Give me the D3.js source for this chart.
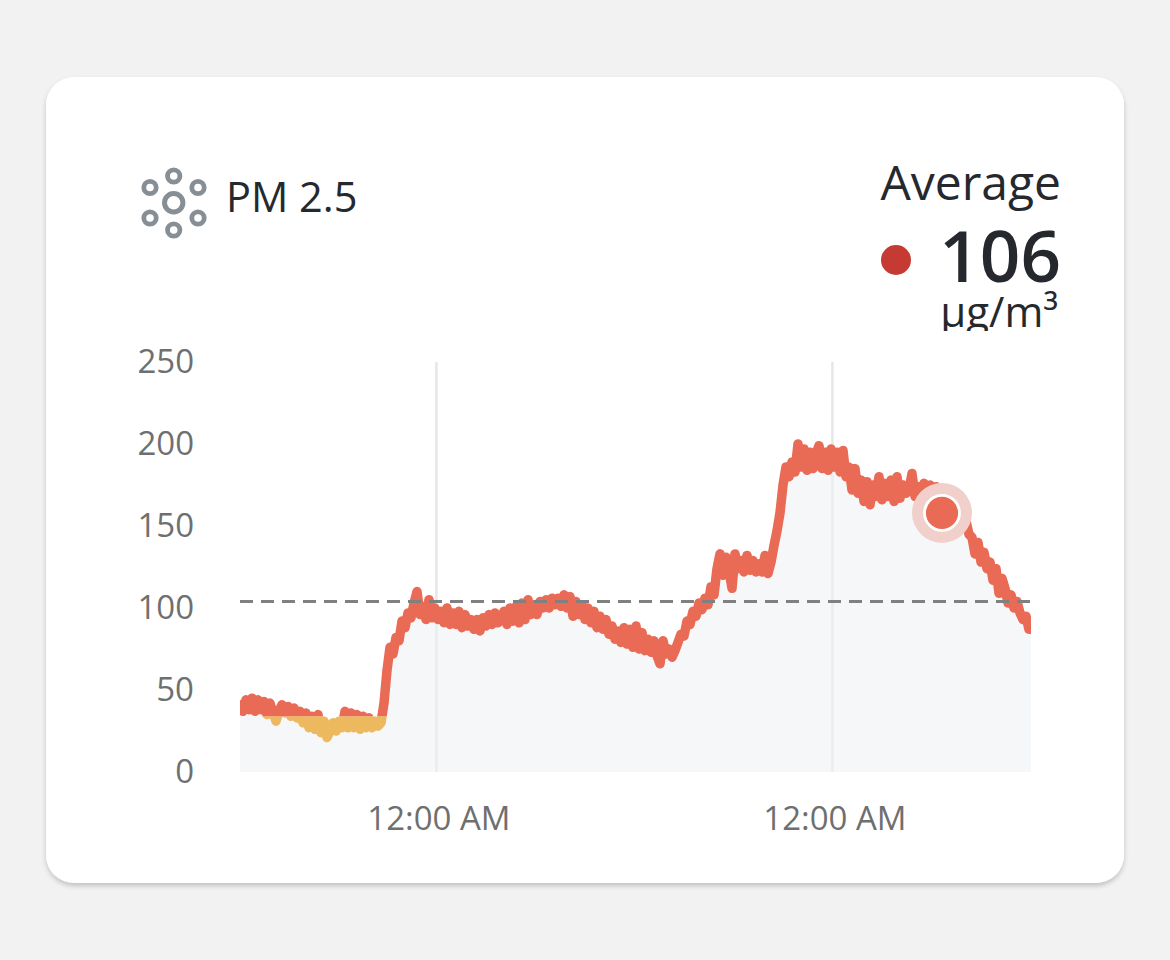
<!DOCTYPE html>
<html><head><meta charset="utf-8">
<script src="https://cdn.jsdelivr.net/npm/d3@7"></script>
<style>
html,body{margin:0;padding:0;background:#f2f2f2;width:1170px;height:960px;overflow:hidden}
svg{display:block;font-family:"Open Sans",sans-serif}
</style></head><body>
<svg id="c" width="1170" height="960"></svg>
<script>
const title = "PM 2.5";
const averageLabel = "Average";
const averageValue = "106";
const unitLabel = "µg/m³";
const yTicks = [0, 50, 100, 150, 200, 250];
const threshold = 104;
const colorBreak = 34;
const sampleMinutes = 1440 / 132;
const firstSample = new Date(2021, 0, 1, 12, 7, 38);
const midnights = [new Date(2021, 0, 2, 0, 0), new Date(2021, 0, 3, 0, 0)];
const pm25 = [
41,37,44,38,45,37,44,38,43,35,42,36,31,37,41,36,40,34,39,33,
37,30,36,27,34,26,35,24,31,21,25,30,25,31,27,37,27,36,27,35,26,34,27,33,27,31,28,30,
42,62,76,72,82,80,92,88,97,94,103,110,96,101,93,105,94,100,93,
98,91,100,90,97,90,98,88,96,89,93,87,93,86,94,89,96,90,97,91,93,98,90,100,92,101,91,103,93,105,96,102,96,104,100,105,100,106,102,106,101,108,100,107,
95,104,96,102,93,100,91,98,88,95,87,93,84,89,81,86,79,88,78,87,76,89,75,85,74,81,73,80,71,66,80,72,75,70,74,79,84,83,92,90,98,95,103,99,106,102,113,108,124,133,120,131,123,112,133,124,129,122,132,123,129,122,127,122,132,121,128,138,147,158,175,186,180,189,183,200,186,197,184,195,185,194,199,185,195,184,197,186,195,183,196,180,186,172,185,170,178,165,177,163,175,168,180,166,176,168,178,165,180,167,175,170,172,182,168,174,168,176,170,175,170,174,172,168,165,163,160,158,160,155,150,153,145,143,133,140,128,134,124,128,117,124,109,118,112,103,108,100,104,97,93,95,87
];

const svg = d3.select("#c");
const defs = svg.append("defs");
const sh = defs.append("filter").attr("id","sh").attr("x","-5%").attr("y","-5%").attr("width","110%").attr("height","110%");
sh.append("feDropShadow").attr("dx",0).attr("dy",3).attr("stdDeviation",2.5).attr("flood-color","#000").attr("flood-opacity",0.2);

svg.append("rect").attr("x",46).attr("y",77).attr("width",1078).attr("height",806).attr("rx",28)
  .attr("fill","#fff").attr("filter","url(#sh)");

// header icon
const iconRings = [[150,187.5],[198,187.5],[150,218],[198,218],[173.7,176],[173.7,230]];
const icon = svg.append("g").attr("fill","none").attr("stroke","#868e96");
icon.selectAll("circle").data(iconRings).join("circle")
  .attr("cx",d=>d[0]).attr("cy",d=>d[1]).attr("r",6.2).attr("stroke-width",4.8);
icon.append("circle").attr("cx",173.7).attr("cy",202.7).attr("r",9.2).attr("stroke-width",5);

const ink = "#25292e";
svg.append("text").attr("x",226).attr("y",212).attr("font-size",41.5).attr("fill",ink).text(title);
svg.append("text").attr("x",1061).attr("y",200).attr("text-anchor","end").attr("font-size",48).attr("fill",ink).text(averageLabel);
svg.append("text").attr("x",1061).attr("y",282).attr("text-anchor","end").attr("font-size",71).attr("font-weight",600).attr("fill",ink).text(averageValue);
svg.append("circle").attr("cx",896).attr("cy",260).attr("r",15).attr("fill","#c53a33");
defs.append("clipPath").attr("id","unitClip").append("rect").attr("x",900).attr("y",285).attr("width",180).attr("height",46);
svg.append("g").attr("clip-path","url(#unitClip)").append("text").attr("x",1058).attr("y",327).attr("text-anchor","end").attr("font-size",42).attr("fill",ink).text(unitLabel);

// scales
const L = 240, R = 1031, T = 362, B = 772;
const timeOf = i => new Date(+firstSample + i * sampleMinutes * 60000);
const x = d3.scaleTime().domain([firstSample, timeOf(791/3)]).range([L, R]);
const y = d3.scaleLinear().domain([0, 250]).range([B, T]);

// x axis with vertical grid
const xAxis = svg.append("g").attr("transform",`translate(0,${B})`)
  .call(d3.axisBottom(x).tickValues(midnights).tickFormat(d3.timeFormat("%I:%M %p")).tickSize(-(B-T)).tickPadding(35));
xAxis.select(".domain").remove();
xAxis.selectAll("line").attr("stroke","#e6e7e8").attr("stroke-width",2.5);
xAxis.selectAll("text").attr("font-size",33).attr("fill","#6f6f6f").attr("font-family","'Open Sans',sans-serif").attr("dx",2.5);

// y axis
const yAxis = svg.append("g").attr("transform",`translate(${L},0)`)
  .call(d3.axisLeft(y).tickValues(yTicks).tickSize(0).tickPadding(46));
yAxis.select(".domain").remove();
yAxis.selectAll("text").attr("font-size",33).attr("fill","#6f6f6f").attr("font-family","'Open Sans',sans-serif").attr("dy","0.32em");

// area
defs.append("clipPath").attr("id","plot").append("rect").attr("x",L).attr("y",T-20).attr("width",R-L).attr("height",B-T+20);
const area = d3.area().x((d,i)=>x(timeOf(i))).y0(B).y1(d=>y(d));
const xmax = pm25.concat([pm25[pm25.length-1]]);
svg.append("path").datum(xmax).attr("d",area).attr("fill","#eef0f2").attr("fill-opacity",0.55).attr("clip-path","url(#plot)");

// line: orange below break, red above
const line = d3.line().x((d,i)=>x(timeOf(i))).y(d=>y(d));
const by = y(colorBreak);
defs.append("clipPath").attr("id","above").append("rect").attr("x",L).attr("y",T-20).attr("width",R-L).attr("height",by-T+20);
defs.append("clipPath").attr("id","below").append("rect").attr("x",L).attr("y",by).attr("width",R-L).attr("height",B-by);
[["below","#edb95f"],["above","#e96a55"]].forEach(([c,col])=>{
  svg.append("g").attr("clip-path",`url(#${c})`).append("path").datum(pm25).attr("d",line)
    .attr("fill","none").attr("stroke",col).attr("stroke-width",9.5).attr("stroke-linejoin","round").attr("stroke-linecap","round");
});

// threshold
svg.append("line").attr("x1",L).attr("x2",R-1).attr("y1",y(threshold)).attr("y2",y(threshold))
  .attr("stroke","#808080").attr("stroke-width",3).attr("stroke-dasharray","13 8");

// marker
const mx = 942, my = y(158);
svg.append("circle").attr("cx",mx).attr("cy",my).attr("r",30).attr("fill","#f1d0cc");
svg.append("circle").attr("cx",mx).attr("cy",my).attr("r",17.5).attr("fill","#e96a55").attr("stroke","#fff").attr("stroke-width",2.8);
</script>
</body></html>
